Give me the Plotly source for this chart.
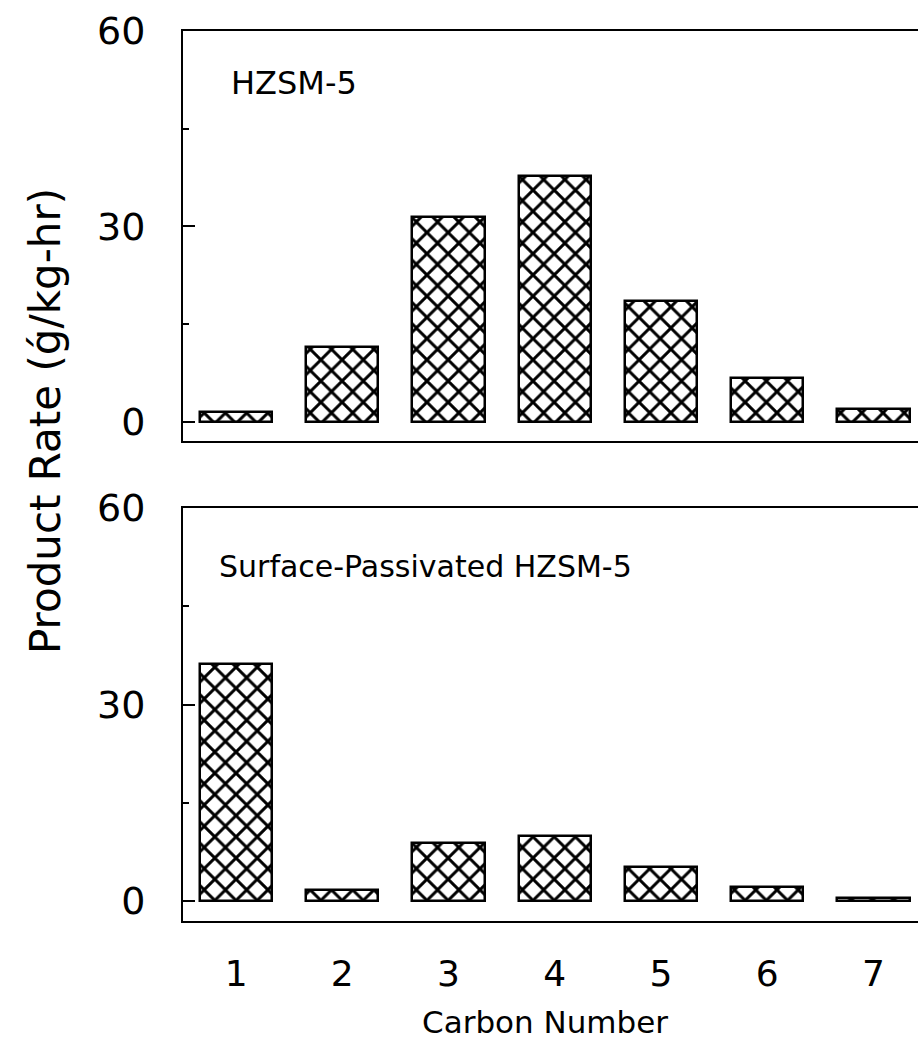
import plotly.graph_objects as go

carbon = [1, 2, 3, 4, 5, 6, 7]
carbon_labels = ["1", "2", "3", "4", "5", "6", "7"]
hzsm5 = [1.5, 11.5, 31.4, 37.7, 18.6, 6.8, 2.0]
passivated = [36.2, 1.7, 8.8, 10.0, 5.2, 2.1, 0.4]
ytick_vals = [0, 30, 60]
ytick_text = ["0", "30", "60"]
yminor_vals = [15, 45]

W, H = 918, 1053
FONT = "DejaVu Sans"

def py(px):
    return 1 - px / H

fig = go.Figure()

bar_style = dict(
    width=0.68,
    marker=dict(
        color="white",
        line=dict(color="black", width=2.5),
        pattern=dict(shape="x", fgcolor="black", bgcolor="white", size=15,
                     solidity=0.35, fgopacity=1),
    ),
    showlegend=False,
)

fig.add_trace(go.Bar(x=carbon, y=hzsm5, xaxis="x", yaxis="y", **bar_style))
fig.add_trace(go.Bar(x=carbon, y=passivated, xaxis="x2", yaxis="y2", **bar_style))

xdom = [183 / W, 1.0]
xr = [0.5, 7.42]

common_x = dict(
    range=xr, domain=xdom, showline=True, linecolor="black", linewidth=2,
    mirror=True, ticks="", showgrid=False, zeroline=False, automargin=False,
    tickvals=carbon, ticktext=carbon_labels,
    tickfont=dict(family=FONT, size=36, color="black"),
)

common_y = dict(
    showline=True, linecolor="black", linewidth=2, mirror=False,
    showgrid=False, zeroline=False, automargin=False,
    tickvals=ytick_vals, ticktext=ytick_text,
    ticks="inside", ticklen=12, tickwidth=2, tickcolor="black",
    minor=dict(tickvals=yminor_vals, ticks="inside", ticklen=6, tickwidth=2, tickcolor="black"),
    tickfont=dict(family=FONT, size=38, color="black"),
    ticklabelstandoff=28,
)

right_y = dict(
    side="right", showline=False, showgrid=False, zeroline=False, automargin=False,
    tickvals=[0, 30], ticks="inside", ticklen=7, tickwidth=2, tickcolor="black",
    showticklabels=False,
)

fig.update_layout(
    width=W, height=H,
    margin=dict(l=0, r=0, t=0, b=0, autoexpand=False),
    paper_bgcolor="white", plot_bgcolor="white",
    bargap=0,
    xaxis=dict(anchor="y", showticklabels=False, **common_x),
    xaxis2=dict(anchor="y2", showticklabels=True, ticklabelstandoff=20, **common_x),
    yaxis=dict(anchor="x", domain=[py(441), py(31)], range=[-2.92, 60], **common_y),
    yaxis2=dict(anchor="x2", domain=[py(921), py(508)], range=[-3.05, 60], **common_y),
    yaxis3=dict(anchor="x", overlaying="y", range=[-2.92, 60], **right_y),
    yaxis4=dict(anchor="x2", overlaying="y2", range=[-3.05, 60], **right_y),
    annotations=[
        dict(text="HZSM-5", x=229 / W, y=py(83), xref="paper", yref="paper",
             xanchor="left", yanchor="middle", showarrow=False,
             font=dict(family=FONT, size=32, color="black")),
        dict(text="Surface-Passivated HZSM-5", x=217 / W, y=py(566), xref="paper", yref="paper",
             xanchor="left", yanchor="middle", showarrow=False,
             font=dict(family=FONT, size=30, color="black")),
        dict(text="Product Rate (ǵ/kg-hr)", x=45 / W, y=py(421), xref="paper", yref="paper",
             xanchor="center", yanchor="middle", showarrow=False, textangle=-90,
             font=dict(family=FONT, size=42, color="black")),
        dict(text="Carbon Number", x=545 / W, y=py(1022), xref="paper", yref="paper",
             xanchor="center", yanchor="middle", showarrow=False,
             font=dict(family=FONT, size=31, color="black")),
    ],
)

fig.write_html("out.html")
